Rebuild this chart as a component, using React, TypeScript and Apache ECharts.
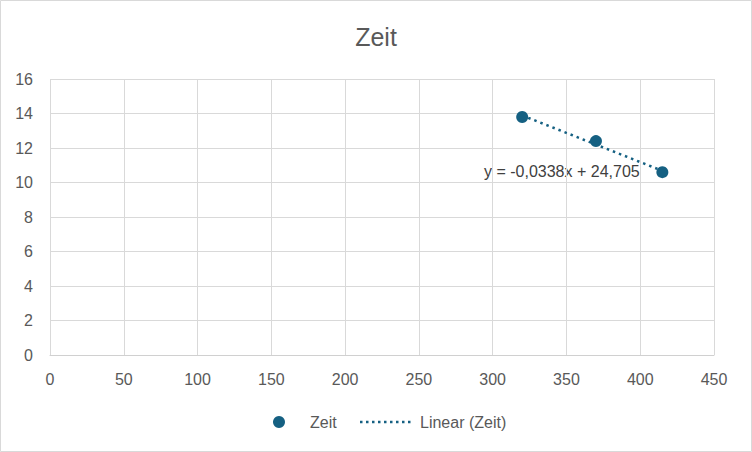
import React, { useEffect, useRef } from "react";
import * as echarts from "echarts";

const seriesName = "Zeit";
const trendName = "Linear (Zeit)";
const xValues = [320, 370, 415];
const yValues = [13.8, 12.4, 10.6];
const trendSlope = -0.0338;
const trendIntercept = 24.705;
const trendLabel = "y = -0,0338x + 24,705";
const xTicks = { min: 0, max: 450, interval: 50 };
const yTicks = { min: 0, max: 16, interval: 2 };

const COLOR = "#156082";
const FONT = "Liberation Sans, Arial, sans-serif";
const TEXT = "#595959";

export default function App() {
  const ref = useRef<HTMLDivElement>(null);
  useEffect(() => {
    document.body.style.margin = "0";
    const chart = echarts.init(ref.current!, null, { renderer: "svg" });
    const xMin = Math.min(...xValues);
    const xMax = Math.max(...xValues);
    const trend = [
      [xMin, trendSlope * xMin + trendIntercept],
      [xMax, trendSlope * xMax + trendIntercept],
    ];
    chart.setOption({
      animation: false,
      backgroundColor: "#ffffff",
      textStyle: { fontFamily: FONT },
      title: {
        text: "Zeit",
        left: "center",
        top: 19,
        textStyle: { fontFamily: FONT, fontSize: 25, fontWeight: "normal", color: TEXT },
      },
      grid: { left: 50, right: 38, top: 79, bottom: 97 },
      xAxis: {
        type: "value",
        ...xTicks,
        axisLine: { show: true, lineStyle: { color: "#d0d0d0" } },
        axisTick: { show: false },
        axisLabel: { color: TEXT, fontSize: 16, margin: 16 },
        splitLine: { show: true, lineStyle: { color: "#d9d9d9" } },
      },
      yAxis: {
        type: "value",
        ...yTicks,
        axisLine: { show: false },
        axisTick: { show: false },
        axisLabel: { color: TEXT, fontSize: 16, margin: 17 },
        splitLine: { show: true, lineStyle: { color: "#d9d9d9" } },
      },
      series: [
        {
          name: seriesName,
          type: "scatter",
          symbol: "circle",
          symbolSize: 12,
          itemStyle: { color: COLOR, opacity: 1 },
          data: xValues.map((x, i) => [x, yValues[i]]),
          z: 3,
        },
        {
          name: trendName,
          type: "line",
          symbol: "none",
          showSymbol: false,
          lineStyle: { color: COLOR, width: 2.5, type: [2.5, 4] },
          data: trend,
          z: 2,
        },
      ],
      graphic: [
        {
          type: "text",
          left: 484,
          top: 163,
          style: { text: trendLabel, fill: "#404040", fontSize: 16, fontFamily: FONT },
        },
        {
          type: "circle",
          shape: { cx: 279, cy: 422, r: 6 },
          style: { fill: COLOR },
        },
        {
          type: "text",
          x: 310,
          y: 422,
          style: { text: seriesName, fill: TEXT, fontSize: 16, fontFamily: FONT, verticalAlign: "middle" },
        },
        {
          type: "line",
          shape: { x1: 360, y1: 422, x2: 413, y2: 422 },
          style: { stroke: COLOR, lineWidth: 2.5, lineDash: [2.5, 3.5] },
        },
        {
          type: "text",
          x: 420,
          y: 422,
          style: { text: trendName, fill: TEXT, fontSize: 16, fontFamily: FONT, verticalAlign: "middle" },
        },
        {
          type: "rect",
          shape: { x: 0.5, y: 0.5, width: 751, height: 451 },
          style: { fill: "none", stroke: "#d9d9d9", lineWidth: 1 },
          silent: true,
        },
      ],
    });
    return () => chart.dispose();
  }, []);
  return <div ref={ref} style={{ width: 752, height: 452 }} />;
}
